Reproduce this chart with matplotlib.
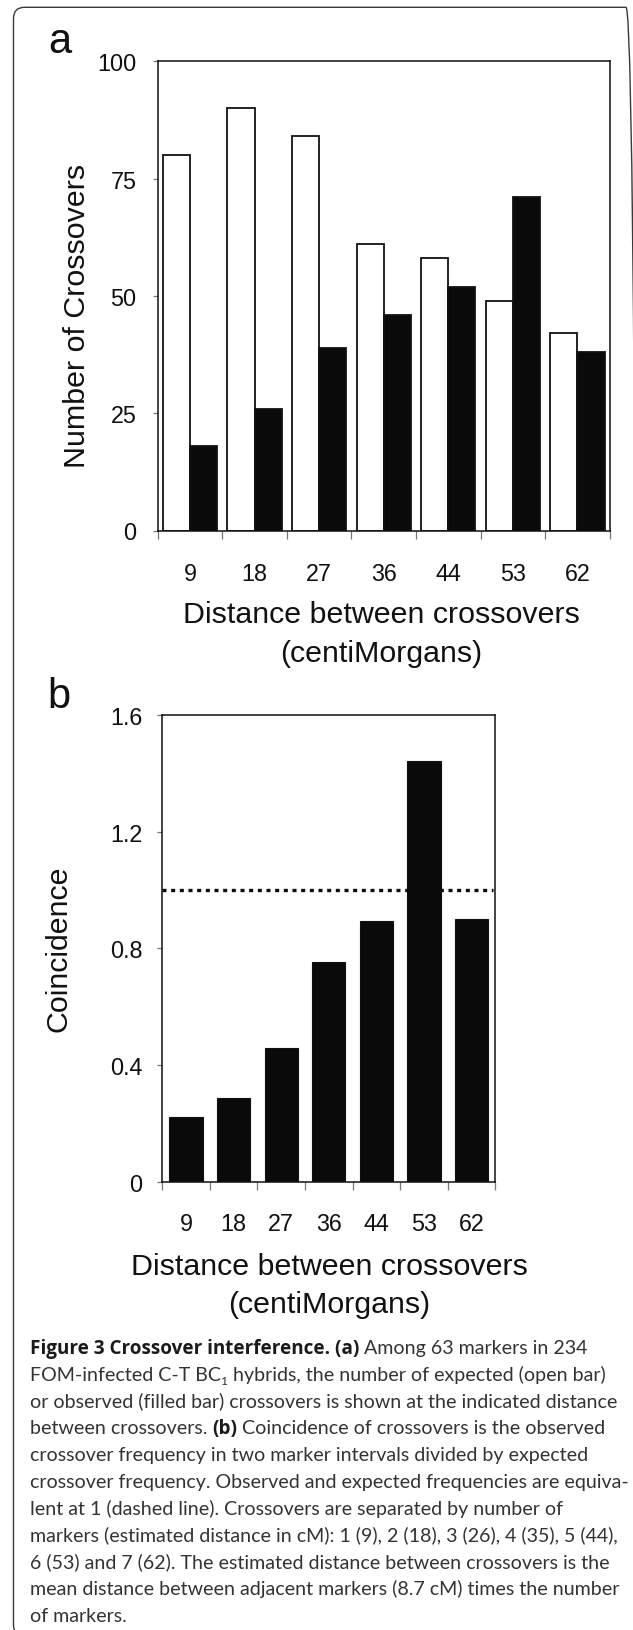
import matplotlib
matplotlib.use('Agg')
import matplotlib.pyplot as plt
from matplotlib.patches import FancyBboxPatch
from matplotlib.transforms import IdentityTransform
import numpy as np

# ---------------- data ----------------
distances = ['9', '18', '27', '36', '44', '53', '62']
expected = [80, 90, 84, 61, 58, 49, 42]
observed = [18, 26, 39, 46, 52, 71, 38]
coincidence = [0.223, 0.286, 0.459, 0.752, 0.893, 1.443, 0.901]
equivalence_level = 1.0
a_yticks = [0, 25, 50, 75, 100]
b_yticks = [0, 0.4, 0.8, 1.2, 1.6]
b_yticklabels = ['0', '0.4', '0.8', '1.2', '1.6']

caption_lines = [
    [("Figure 3 Crossover interference. (a)", 'bold'), (" Among 63 markers in 234", 'normal')],
    [("FOM-infected C-T BC", 'normal'), ("1", 'sub'), (" hybrids, the number of expected (open bar)", 'normal')],
    [("or observed (filled bar) crossovers is shown at the indicated distance", 'normal')],
    [("between crossovers. ", 'normal'), ("(b)", 'bold'), (" Coincidence of crossovers is the observed", 'normal')],
    [("crossover frequency in two marker intervals divided by expected", 'normal')],
    [("crossover frequency. Observed and expected frequencies are equiva-", 'normal')],
    [("lent at 1 (dashed line). Crossovers are separated by number of", 'normal')],
    [("markers (estimated distance in cM): 1 (9), 2 (18), 3 (26), 4 (35), 5 (44),", 'normal')],
    [("6 (53) and 7 (62). The estimated distance between crossovers is the", 'normal')],
    [("mean distance between adjacent markers (8.7 cM) times the number", 'normal')],
    [("of markers.", 'normal')],
]

# ---------------- figure ----------------
W, H = 633, 1631
plt.rcParams['font.family'] = ['Liberation Sans', 'DejaVu Sans']
fig = plt.figure(figsize=(W / 100, H / 100), dpi=100)
fig.patch.set_facecolor('white')


def fx(x):
    return x / W


def fy(y):
    return 1 - y / H


def axes_px(l, r, t, b):
    return fig.add_axes([fx(l), fy(b), (r - l) / W, (b - t) / H])


TICK_FS = 16.8
LABEL_FS = 21.9
PANEL_FS = 30
SPINE_LW = 1.1
TXT = '#111111'

x = np.arange(len(distances))

# ---------------- panel a ----------------
axa = axes_px(157.7, 609.7, 62.3, 531.5)
axa.bar(x + 0.29, expected, width=0.42, color='white', edgecolor='#111111', linewidth=1.3, zorder=2)
axa.bar(x + 0.71, observed, width=0.42, color='#0a0a0a', edgecolor='#111111', linewidth=1.3, zorder=2)
axa.set_xlim(0, len(distances))
axa.set_ylim(0, 100)
axa.set_xticks(x + 0.5, distances)
axa.set_xticks(np.arange(len(distances) + 1), minor=True)
axa.tick_params(axis='x', which='major', length=0, pad=22.5, labelsize=TICK_FS, labelcolor=TXT)
axa.tick_params(axis='x', which='minor', length=6, width=0.9, color='#777777', direction='out')
axa.set_yticks(a_yticks)
axa.tick_params(axis='y', length=3.8, width=0.9, color='#777777', pad=11.3, labelsize=TICK_FS, labelcolor=TXT)
for s in axa.spines.values():
    s.set_linewidth(SPINE_LW)
    s.set_color('#111111')

# ---------------- panel b ----------------
axb = axes_px(162.3, 495.3, 716, 1182.7)
axb.bar(x + 0.5, coincidence, width=0.70, color='#0a0a0a', edgecolor='#111111', linewidth=0.8, zorder=2)
axb.plot([0, len(distances) - 0.05], [equivalence_level, equivalence_level], color='#0a0a0a',
         linewidth=2.4, linestyle=(0, (1.2, 1.4)), dash_capstyle='butt', zorder=3)
axb.set_xlim(0, len(distances))
axb.set_ylim(0, 1.6)
axb.set_xticks(x + 0.5, distances)
axb.set_xticks(np.arange(len(distances) + 1), minor=True)
axb.tick_params(axis='x', which='major', length=0, pad=21.6, labelsize=TICK_FS, labelcolor=TXT)
axb.tick_params(axis='x', which='minor', length=6, width=0.9, color='#777777', direction='out')
axb.set_yticks(b_yticks, b_yticklabels)
axb.tick_params(axis='y', length=3.8, width=0.9, color='#777777', pad=10.3, labelsize=TICK_FS, labelcolor=TXT)
for s in axb.spines.values():
    s.set_linewidth(SPINE_LW)
    s.set_color('#111111')

# ---------------- labels ----------------
fig.text(fx(48.5), fy(53.3), 'a', fontsize=PANEL_FS, color=TXT, ha='left', va='baseline')
fig.text(fx(47.3), fy(708.3), 'b', fontsize=PANEL_FS, color=TXT, ha='left', va='baseline')

fig.text(fx(85), fy(315.5), 'Number of Crossovers', fontsize=LABEL_FS, color=TXT,
         rotation=90, rotation_mode='anchor', ha='center', va='baseline')
fig.text(fx(67), fy(949), 'Coincidence', fontsize=LABEL_FS, color=TXT,
         rotation=90, rotation_mode='anchor', ha='center', va='baseline')

fig.text(fx(381.5), fy(623.3), 'Distance between crossovers', fontsize=LABEL_FS, color=TXT,
         ha='center', va='baseline')
fig.text(fx(381.5), fy(662), '(centiMorgans)', fontsize=LABEL_FS, color=TXT,
         ha='center', va='baseline')
fig.text(fx(329.5), fy(1275.3), 'Distance between crossovers', fontsize=LABEL_FS, color=TXT,
         ha='center', va='baseline')
fig.text(fx(329.5), fy(1313), '(centiMorgans)', fontsize=LABEL_FS, color=TXT,
         ha='center', va='baseline')

# ---------------- border ----------------
border = FancyBboxPatch((13.5, -6), 637 - 13.5, (H - 8.3) + 6,
                        boxstyle='round,pad=0,rounding_size=11',
                        transform=IdentityTransform(), fill=False,
                        edgecolor='#3a3a3a', linewidth=1.0, zorder=0)
fig.patches.append(border)

# ---------------- caption ----------------
REG_FONT = ['Lato', 'DejaVu Sans']
BOLD_FONT = ['Open Sans', 'DejaVu Sans']
renderer = fig.canvas.get_renderer()


def text_width(s, size, weight, family):
    t1 = fig.text(0, 0, 'X' + s + 'X', fontsize=size, fontweight=weight, family=family)
    t2 = fig.text(0, 0, 'XX', fontsize=size, fontweight=weight, family=family)
    w = t1.get_window_extent(renderer).width - t2.get_window_extent(renderer).width
    t1.remove()
    t2.remove()
    return w


base = 14.8
w3 = text_width(caption_lines[2][0][0], base, 'normal', REG_FONT)
w10 = text_width(caption_lines[9][0][0], base, 'normal', REG_FONT)
CAP_FS = base * 0.5 * (587.7 / w3 + 589.7 / w10)
wb = text_width(caption_lines[0][0][0], base, 'bold', BOLD_FONT)
BOLD_FS = min(base * 326.7 / wb, CAP_FS * 1.1)

cap_x0 = 29.5
cap_y0 = 1354.0
cap_dy = 26.8
for k, line in enumerate(caption_lines):
    xpos = cap_x0
    ybase = cap_y0 + k * cap_dy
    for seg, kind in line:
        if kind == 'sub':
            size, weight, fam, yy = CAP_FS * 0.62, 'normal', REG_FONT, ybase + 4.0
        elif kind == 'bold':
            size, weight, fam, yy = BOLD_FS, 'bold', BOLD_FONT, ybase
        else:
            size, weight, fam, yy = CAP_FS, 'normal', REG_FONT, ybase
        col = '#1a1a1a' if weight == 'bold' else '#333333'
        fig.text(fx(xpos), fy(yy), seg, fontsize=size, fontweight=weight, family=fam,
                 color=col, ha='left', va='baseline')
        xpos += text_width(seg, size, weight, fam)

fig.savefig('out.png', dpi=100, facecolor='white')
